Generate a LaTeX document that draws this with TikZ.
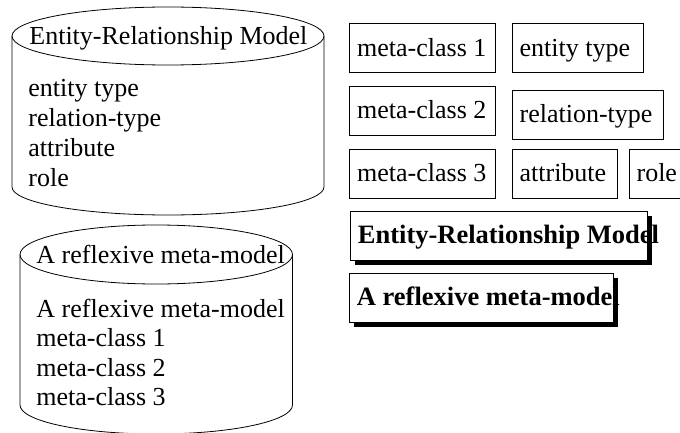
\documentclass[tikz,border=0pt]{standalone}
\usepackage{fontspec}
\setmainfont{Liberation Serif}
\usetikzlibrary{shadows}
\begin{document}
\begin{tikzpicture}[x=1pt, y=-1pt, line width=0.8pt,
  txt/.style={font=\fontsize{26}{30}\selectfont, inner sep=0pt, anchor=base west},
  box/.style={draw, anchor=north west, inner xsep=7.5pt, inner ysep=0pt,
    minimum height=49pt, text height=16pt, text depth=0pt,
    font=\fontsize{26}{30}\selectfont},
  titlebox/.style={box, fill=white, font=\fontsize{26.5}{30}\selectfont\bfseries,
    drop shadow={shadow xshift=5pt, shadow yshift=-4.5pt, opacity=1, fill=black}}]
  \useasboundingbox (0,0) rectangle (680,433);

  % first store: Entity-Relationship Model
  \draw (168,36) ellipse [x radius=156, y radius=29];
  \draw (12,36) -- (12,187) arc [start angle=180, end angle=0, x radius=156, y radius=28] -- (324,36);
  \node[txt] (erhead) at (29,45) {Entity-Relationship Model};
  \node[txt] (er1) at (28,97) {entity type};
  \node[txt] (er2) at (28,127) {relation-type};
  \node[txt] (er3) at (28,157) {attribute};
  \node[txt] (er4) at (28,186.5) {role};

  % second store: A reflexive meta-model
  \draw (156.25,254.5) ellipse [x radius=136.25, y radius=29.5];
  \draw (20,254.5) -- (20,405) arc [start angle=180, end angle=0, x radius=136.25, y radius=29] -- (292.5,254.5);
  \node[txt] (rmhead) at (36,263.3) {A reflexive meta-model};
  \node[txt] (rm0) at (36,317) {A reflexive meta-model};
  \node[txt] (rm1) at (36,346.5) {meta-class 1};
  \node[txt] (rm2) at (36,376) {meta-class 2};
  \node[txt] (rm3) at (36,405.5) {meta-class 3};

  % class boxes
  \node[box] (mc1) at (349.3,23.3) {\makebox[131pt][l]{meta-class 1}};
  \node[box] (mc2) at (349.3,86) {\makebox[131pt][l]{meta-class 2}};
  \node[box] (mc3) at (349.3,149) {\makebox[131pt][l]{meta-class 3}};
  \node[box] (et) at (511.7,23.3) {\makebox[116pt][l]{entity type}};
  \node[box] (rt) at (511.7,90) {\makebox[136pt][l]{relation-type}};
  \node[box] (at) at (511.7,149) {\makebox[90pt][l]{attribute}};
  \node[box] (ro) at (628.7,149) {\makebox[39pt][l]{role}};

  % model title boxes
  \node[titlebox] (ermtitle) at (350,211) {\makebox[282pt][l]{Entity-Relationship Model}};
  \node[titlebox] (rmmtitle) at (349,273) {\makebox[249pt][l]{A reflexive meta-model}};
\end{tikzpicture}
\end{document}
